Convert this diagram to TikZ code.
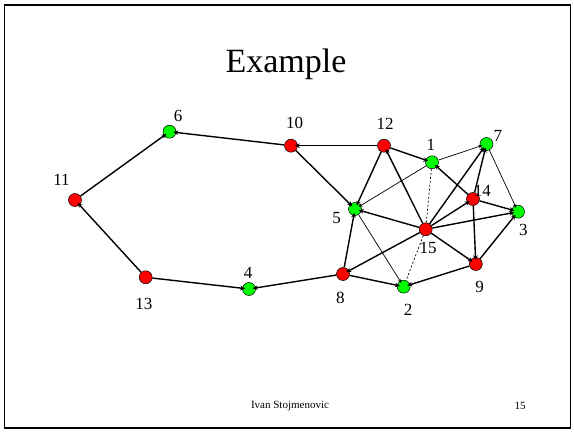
\documentclass[tikz,border=0pt]{standalone}
\usepackage{fontspec}
\setmainfont{Liberation Serif}
\usetikzlibrary{arrows.meta}
\definecolor{vred}{RGB}{255,0,0}
\definecolor{vgreen}{RGB}{0,255,0}
\begin{document}
\begin{tikzpicture}[x=1pt,y=-1pt,
  vtx/.style={circle,draw=black,line width=0.5pt,minimum size=13pt,inner sep=0pt},
  rv/.style={vtx,fill=vred},
  gv/.style={vtx,fill=vgreen},
  lbl/.style={font=\fontsize{17}{17}\selectfont,inner sep=0pt},
  thick edge/.style={line width=1.4pt,-{Stealth[length=5pt,width=4.5pt]},shorten >=-3pt},
  thin edge/.style={line width=0.7pt,-{Stealth[length=4pt,width=3.5pt]},shorten >=-2.5pt},
  dash edge/.style={line width=0.7pt,dash pattern=on 2pt off 2pt}]
\useasboundingbox (0,0) rectangle (574,433);
% slide frame
\draw[line width=1.8pt] (4.5,5) rectangle (570.5,428);
% title and footer
\node[font=\fontsize{34}{34}\selectfont,inner sep=0pt] (title) at (286,64) {Example};
\node[font=\fontsize{11}{11}\selectfont,inner sep=0pt] (author) at (290,406) {Ivan Stojmenovic};
\node[font=\fontsize{11}{11}\selectfont,inner sep=0pt] (page) at (520,406) {15};

% vertices
\node[gv] (n6)  at (169.5,131.7) {};
\node[rv] (n10) at (291,145.7) {};
\node[rv] (n12) at (384,145.7) {};
\node[gv] (n1)  at (432,162.3) {};
\node[gv] (n7)  at (486.5,144) {};
\node[rv] (n11) at (75,200) {};
\node[rv] (n14) at (473,199) {};
\node[gv] (n5)  at (355,209) {};
\node[gv] (n3)  at (518,211.7) {};
\node[rv] (n15) at (425.7,229.3) {};
\node[rv] (n9)  at (475.8,264) {};
\node[rv] (n8)  at (343,274) {};
\node[gv] (n4)  at (249,289) {};
\node[gv] (n2)  at (403.7,286.7) {};
\node[rv] (n13) at (145.7,277.3) {};

% vertex labels
\node[lbl] (l6)  at (178,115.7) {6};
\node[lbl] (l10) at (294.6,123) {10};
\node[lbl] (l12) at (385,124) {12};
\node[lbl] (l1)  at (430.8,145) {1};
\node[lbl] (l7)  at (497.8,136) {7};
\node[lbl] (l11) at (61.5,180) {11};
\node[lbl] (l14) at (482.4,190.7) {14};
\node[lbl] (l5)  at (336.7,218.3) {5};
\node[lbl] (l3)  at (523.4,230) {3};
\node[lbl] (l15) at (428,248.3) {15};
\node[lbl] (l9)  at (479.5,286.7) {9};
\node[lbl] (l8)  at (340.4,297.7) {8};
\node[lbl] (l2)  at (408,310) {2};
\node[lbl] (l4)  at (248,272.7) {4};
\node[lbl] (l13) at (143.8,304.3) {13};

% directed links
\draw[thick edge] (n10) -- (n6);
\draw[thick edge] (n11) -- (n6);
\draw[thick edge] (n13) -- (n11);
\draw[thick edge] (n13) -- (n4);
\draw[thick edge] (n8) -- (n4);
\draw[thick edge] (n12) -- (n10);
\draw[thick edge] (n10) -- (n5);
\draw[thick edge] (n12) -- (n5);
\draw[thick edge] (n15) -- (n12);
\draw[thick edge] (n12) -- (n1);
\draw[thick edge] (n14) -- (n1);
\draw[thick edge] (n15) -- (n7);
\draw[thick edge] (n14) -- (n7);
\draw[thick edge] (n15) -- (n14);
\draw[thick edge] (n14) -- (n3);
\draw[thick edge] (n15) -- (n3);
\draw[thick edge] (n15) -- (n5);
\draw[thick edge] (n15) -- (n8);
\draw[thick edge] (n15) -- (n9);
\draw[thick edge] (n14) -- (n9);
\draw[thick edge] (n9) -- (n3);
\draw[thick edge] (n9) -- (n2);
\draw[thick edge] (n8) -- (n2);
\draw[thick edge] (n8) -- (n5);
\draw[thin edge] (n1) -- (n7);
\draw[thin edge] (n1) -- (n5);
\draw[thin edge] (n7) -- (n3);
\draw[thin edge] (n5) -- (n2);
\draw[dash edge] (n15) -- (n1);
\draw[dash edge] (n15) -- (n2);
\end{tikzpicture}
\end{document}
